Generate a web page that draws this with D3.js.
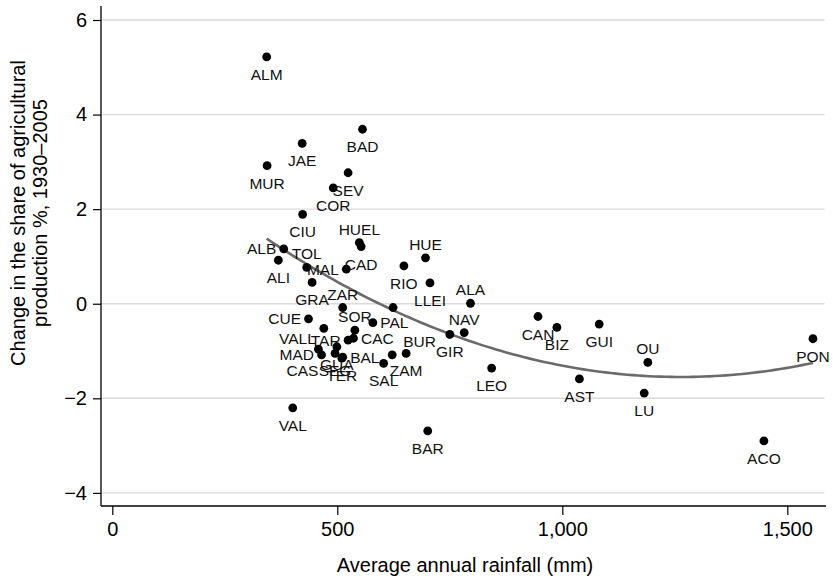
<!DOCTYPE html>
<html>
<head>
<meta charset="utf-8">
<script src="https://cdn.jsdelivr.net/npm/d3@7"></script>
<style>
  html, body { margin: 0; padding: 0; background: #fff; }
  svg { display: block; font-family: "Liberation Sans", Arial, Helvetica, sans-serif; }
</style>
</head>
<body>
<svg id="chart" width="833" height="578"></svg>
<script>
// Province codes
const provinces = ["ALM","BAD","JAE","MUR","SEV","COR","CIU","HUEL","CAD","ALB",
  "ALI","TOL","MAL","RIO","HUE","LLEI","GRA","ZAR","AVI","ALA",
  "CUE","VALL","SOR","PAL","TAR","CAC","CAS","MAD","GUA","SEG",
  "TER","BAL","SAL","BUR","ZAM","GIR","NAV","CAN","BIZ","GUI",
  "OU","LU","AST","LEO","BAR","VAL","PON","ACO"];

// Average annual rainfall (mm)
const rainfall = [343,556,422,344,524,491,423,549,553,381,
  369,432,520,648,696,706,444,512,624,796,
  436,470,539,579,524,536,458,465,499,495,
  510,512,603,622,653,750,782,946,988,1082,
  1190,1182,1038,843,701,401,1557,1448];

// Change in the share of agricultural production (percentage points), 1930-2005
const shareChange = [5.22,3.69,3.39,2.92,2.77,2.45,1.89,1.29,1.21,1.16,
  0.92,0.77,0.73,0.80,0.97,0.44,0.45,-0.08,-0.08,0.01,
  -0.32,-0.52,-0.56,-0.40,-0.77,-0.73,-0.96,-1.08,-0.91,-1.05,
  -1.15,-1.13,-1.26,-1.08,-1.05,-0.65,-0.61,-0.27,-0.50,-0.43,
  -1.24,-1.89,-1.59,-1.36,-2.69,-2.20,-0.74,-2.90];

// Marker-label clock position for each province (0 = no label)
const labelClock = [6,6,6,6,6,6,6,12,6,9,
  6,12,9,6,12,6,6,12,0,12,
  9,8,12,3,9,3,7,9,6,6,
  6,3,6,1,6,6,12,6,6,6,
  12,6,6,6,6,6,6,6];

const xTicks = [0, 500, 1000, 1500];
const yTicks = [-4, -2, 0, 2, 4, 6];

const svg = d3.select("#chart");

const x = d3.scaleLinear().domain([0, 1500]).range([112.3, 787.3]);
const y = d3.scaleLinear().domain([-4, 6]).range([492.9, 20]);

const plotLeft = 101, plotRight = 826, plotTop = 6, plotBottom = 506;

// horizontal grid lines
svg.append("g").selectAll("line").data(yTicks).join("line")
  .attr("x1", plotLeft).attr("x2", 824.5)
  .attr("y1", d => y(d)).attr("y2", d => y(d))
  .attr("stroke", "#dadada").attr("stroke-width", 1.4);

// y axis
const yAxis = d3.axisLeft(y).tickValues(yTicks).tickSize(8).tickPadding(6)
  .tickFormat(d3.format("d"));
const gy = svg.append("g").attr("transform", `translate(${plotLeft},0)`).call(yAxis);
gy.select(".domain").remove();
gy.selectAll(".tick line").attr("stroke", "#000").attr("stroke-width", 1.2);
gy.selectAll(".tick text").attr("font-size", 20).attr("fill", "#000")
  .attr("font-family", "Liberation Sans, Arial, sans-serif");
svg.append("line").attr("x1", plotLeft).attr("x2", plotLeft)
  .attr("y1", plotTop).attr("y2", plotBottom)
  .attr("stroke", "#000").attr("stroke-width", 1.3);

// x axis
const xAxis = d3.axisBottom(x).tickValues(xTicks).tickSize(9).tickPadding(7)
  .tickFormat(d3.format(","));
const gx = svg.append("g").attr("transform", `translate(0,${plotBottom})`).call(xAxis);
gx.select(".domain").remove();
gx.selectAll(".tick line").attr("stroke", "#000").attr("stroke-width", 1.2);
gx.selectAll(".tick text").attr("font-size", 20).attr("fill", "#000")
  .attr("font-family", "Liberation Sans, Arial, sans-serif");
svg.append("line").attr("x1", plotLeft).attr("x2", plotRight)
  .attr("y1", plotBottom).attr("y2", plotBottom)
  .attr("stroke", "#000").attr("stroke-width", 1.3);

// axis titles
svg.append("text").attr("x", 465).attr("y", 572).attr("text-anchor", "middle")
  .attr("font-size", 20).text("Average annual rainfall (mm)");
const yTitle = svg.append("text").attr("transform", "translate(0,213) rotate(-90)")
  .attr("text-anchor", "middle").attr("font-size", 20);
yTitle.append("tspan").attr("x", 0).attr("y", 25).text("Change in the share of agricultural");
yTitle.append("tspan").attr("x", 0).attr("y", 47).text("production %, 1930\u20132005");

// quadratic least-squares fit of share change on rainfall
const rows = provinces.map((p, i) => ({ name: p, r: rainfall[i], v: shareChange[i], pos: labelClock[i] }));
function quadFit(xs, ys) {
  const n = xs.length;
  const mx = d3.mean(xs), sx = d3.deviation(xs);
  const u = xs.map(v => (v - mx) / sx);
  let s = [0,0,0,0,0], t = [0,0,0];
  for (let i = 0; i < n; i++) {
    let p = 1;
    for (let k = 0; k < 5; k++) { s[k] += p; if (k < 3) t[k] += p * ys[i]; p *= u[i]; }
  }
  const A = [[s[0],s[1],s[2],t[0]],[s[1],s[2],s[3],t[1]],[s[2],s[3],s[4],t[2]]];
  for (let c = 0; c < 3; c++) {
    for (let r = c + 1; r < 3; r++) {
      const f = A[r][c] / A[c][c];
      for (let k = c; k < 4; k++) A[r][k] -= f * A[c][k];
    }
  }
  const b = [0,0,0];
  for (let r = 2; r >= 0; r--) {
    let acc = A[r][3];
    for (let k = r + 1; k < 3; k++) acc -= A[r][k] * b[k];
    b[r] = acc / A[r][r];
  }
  return xv => { const z = (xv - mx) / sx; return b[0] + b[1] * z + b[2] * z * z; };
}
const fit = quadFit(rainfall, shareChange);
const [rMin, rMax] = d3.extent(rainfall);
const fitPts = d3.range(0, 101).map(i => rMin + (rMax - rMin) * i / 100);
svg.append("path")
  .attr("d", d3.line().x(d => x(d)).y(d => y(fit(d)))(fitPts))
  .attr("fill", "none").attr("stroke", "#6a6a6a").attr("stroke-width", 2.6);

// markers
svg.append("g").selectAll("circle").data(rows).join("circle")
  .attr("cx", d => x(d.r)).attr("cy", d => y(d.v)).attr("r", 4.4).attr("fill", "#000");

// marker labels by clock position
const place = {
  12: { anchor: "middle", dx: 0, dy: -8 },
  1:  { anchor: "start", dx: 11, dy: -7.5 },
  3:  { anchor: "start", dx: 7.5, dy: 5.5 },
  6:  { anchor: "middle", dx: 0, dy: 23 },
  7:  { anchor: "end", dx: 0, dy: 27 },
  8:  { anchor: "end", dx: -8, dy: 15.5 },
  9:  { anchor: "end", dx: -7.5, dy: 5.5 }
};
svg.append("g").selectAll("text").data(rows.filter(d => d.pos)).join("text")
  .attr("x", d => x(d.r) + place[d.pos].dx)
  .attr("y", d => y(d.v) + place[d.pos].dy)
  .attr("text-anchor", d => place[d.pos].anchor)
  .attr("font-size", 15.5).attr("fill", "#111")
  .text(d => d.name);
</script>
</body>
</html>
